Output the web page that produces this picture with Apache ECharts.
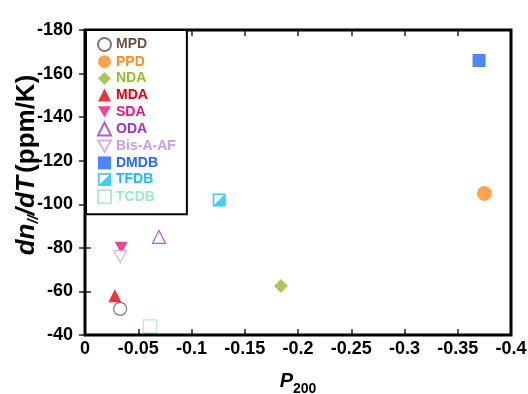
<!DOCTYPE html>
<html>
<head>
<meta charset="utf-8">
<script src="https://cdn.jsdelivr.net/npm/echarts@6/dist/echarts.min.js"></script>
<style>
html,body{margin:0;padding:0;background:#fff;}
#chart{width:528px;height:394px;}
</style>
</head>
<body>
<div id="chart"></div>
<script>
// polyimide names, P200 (x) and dn//dT (y)
const names=["MPD","PPD","NDA","MDA","SDA","ODA","Bis-A-AF","DMDB","TFDB","TCDB"];
const p200=[-0.033,-0.375,-0.184,-0.028,-0.034,-0.0695,-0.033,-0.370,-0.126,-0.061];
const dndt=[-52,-105,-62.5,-58,-80,-85,-76,-166,-102,-44];

const colors=["#6b5249","#ff8c1f","#96b832","#e3000f","#f2127c","#9b33cc","#c6a0e6","#2467ff","#12bff2","#9ee6cf"];
const downTri="path://M0,0L10,0L5,8.7Z";
const halfSquare="path://M0,0L10,0L10,10L0,10ZM1.3,1.3L1.3,8.7L8.7,8.7L8.7,1.3ZM8.7,1.3L8.7,8.7L1.3,8.7Z";
const symbols=["circle","circle","diamond","triangle",downTri,"triangle",downTri,"rect",halfSquare,"rect"];
const hollow=[true,false,false,false,false,true,true,false,false,true];
const sizes=[13,15,14,13,[13,12],13,[13,12],13,13,13];

const xTicks=v=>{ if(Math.abs(v)<1e-9) return "0"; return String(+v.toFixed(2)); };

const chart=echarts.init(document.getElementById("chart"),null,{renderer:"canvas"});

const font="Liberation Sans";
const tick={inside:true,length:6,lineStyle:{color:"#222",width:1.5}};

chart.setOption({
    animation:false,
    grid:{left:85,right:17,top:30,bottom:59,outerBoundsMode:"none",containLabel:false,
          show:true,borderColor:"#000",borderWidth:3,z:3},
    legend:{
        orient:"vertical",left:86,top:30,
        padding:[7,11,10,11],itemGap:2.7,itemWidth:13,itemHeight:13,
        borderColor:"#000",borderWidth:2,backgroundColor:"#fff",z:10,
        textStyle:{fontFamily:font,fontWeight:"bold",fontSize:14},
        data:names.map((n,i)=>({name:n,textStyle:{color:colors[i]}}))
    },
    xAxis:[
        {type:"value",min:-0.4,max:0,interval:0.05,inverse:true,
         axisLine:{show:false},splitLine:{show:false},axisTick:tick,
         axisLabel:{formatter:xTicks,margin:5,color:"#000",fontFamily:font,fontWeight:"bold",fontSize:18},
         name:"{p|P}{s|200}",nameLocation:"middle",nameGap:31,
         nameTextStyle:{rich:{
             p:{fontFamily:font,fontWeight:"bold",fontStyle:"italic",fontSize:20,color:"#000"},
             s:{fontFamily:font,fontWeight:"bold",fontSize:14,color:"#000",padding:[16,0,0,0],verticalAlign:"bottom"}
         }}},
        {type:"value",position:"top",min:-0.4,max:0,interval:0.05,inverse:true,
         axisLine:{show:false},splitLine:{show:false},axisLabel:{show:false},axisTick:tick}
    ],
    yAxis:[
        {type:"value",min:-180,max:-40,interval:20,inverse:true,
         axisLine:{show:false},splitLine:{show:false},axisTick:tick,
         axisLabel:{margin:12,color:"#000",fontFamily:font,fontWeight:"bold",fontSize:18,padding:[0,0,8,0]},
         name:"{i|dn}{s|//}{i|/dT} {b|(ppm/K)}",nameLocation:"middle",nameGap:44,nameMoveOverlap:false,
         nameTextStyle:{padding:[0,0,0,35],rich:{
             i:{fontFamily:font,fontWeight:"bold",fontStyle:"italic",fontSize:26,color:"#000"},
             s:{fontFamily:font,fontWeight:"bold",fontStyle:"italic",fontSize:15,color:"#000",padding:[13,0,0,0],verticalAlign:"bottom"},
             b:{fontFamily:font,fontWeight:"bold",fontSize:26,color:"#000"}
         }}},
        {type:"value",position:"right",min:-180,max:-40,interval:20,inverse:true,
         axisLine:{show:false},splitLine:{show:false},axisLabel:{show:false},axisTick:tick}
    ],
    series:names.map((n,i)=>({
        name:n,type:"scatter",
        symbol:symbols[i],symbolSize:sizes[i],
        itemStyle:hollow[i]
            ?{color:"#fff",borderColor:colors[i],borderWidth:1.2}
            :{color:colors[i]},
        data:[[p200[i],dndt[i]]]
    }))
});

window.addEventListener("resize",()=>chart.resize());
</script>
</body>
</html>
